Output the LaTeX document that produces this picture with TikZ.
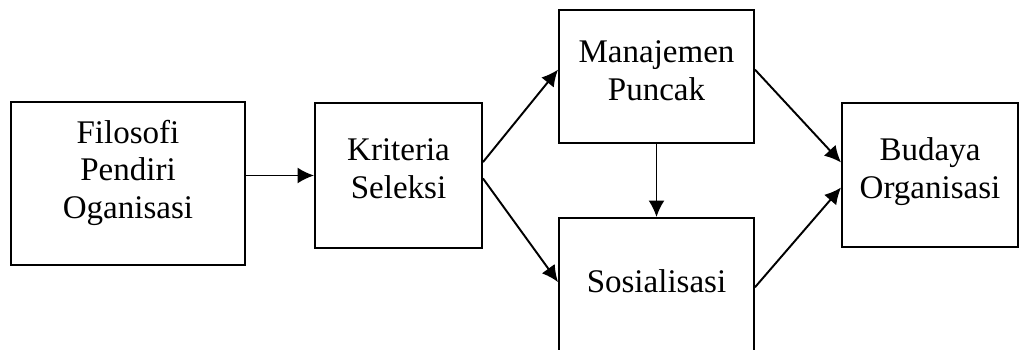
\documentclass[tikz,border=0pt]{standalone}
\usepackage{fontspec}
\setmainfont{Liberation Serif}
\usetikzlibrary{arrows.meta,positioning}

\newcommand{\teksblok}[2]{\raisebox{#1}[0pt][0pt]{\begin{tabular}{@{}c@{}}#2\end{tabular}}}

\tikzset{
  blok/.style={draw,line width=1.1pt,inner sep=0pt,
    font=\fontsize{18.8}{21.3}\selectfont},
  panah/.style={line width=1.1pt,-{Latex[length=0.33cm,width=0.32cm]}}
}

\begin{document}
\begin{tikzpicture}[x=0.02cm,y=-0.02cm]
            \useasboundingbox (0,0) rectangle (1027,350);
            \node[blok,minimum width=4.68cm,minimum height=3.26cm] (filosofi) at (128,183.5) {\teksblok{0.05cm}{Filosofi\\Pendiri\\Oganisasi}};
            \node[blok,minimum width=3.34cm,minimum height=2.9cm] (kriteria) at (398.5,175.5) {\teksblok{-0.08cm}{Kriteria\\Seleksi}};
            \node[blok,minimum width=3.9cm,minimum height=2.66cm] (manajemen) at (656.5,76.5) {\teksblok{-0.1cm}{Manajemen\\Puncak}};
            \node[blok,minimum width=3.9cm,minimum height=2.84cm] (sosialisasi) at (656.5,289) {\teksblok{-0.07cm}{Sosialisasi}};
            \node[blok,minimum width=3.52cm,minimum height=2.88cm] (budaya) at (930,175) {\teksblok{-0.09cm}{Budaya\\Organisasi}};
            \draw[panah] (filosofi.east |- kriteria.west) to (kriteria.west);
            \draw[panah] (kriteria.9) to (manajemen.176);
            \draw[panah] (kriteria.-2) to (sosialisasi.176);
            \draw[panah] (manajemen.south) to (sosialisasi.north);
            \draw[panah] (manajemen.4) to (budaya.172);
            \draw[panah] (sosialisasi.1) to (budaya.188);
        \end{tikzpicture}
\end{document}
